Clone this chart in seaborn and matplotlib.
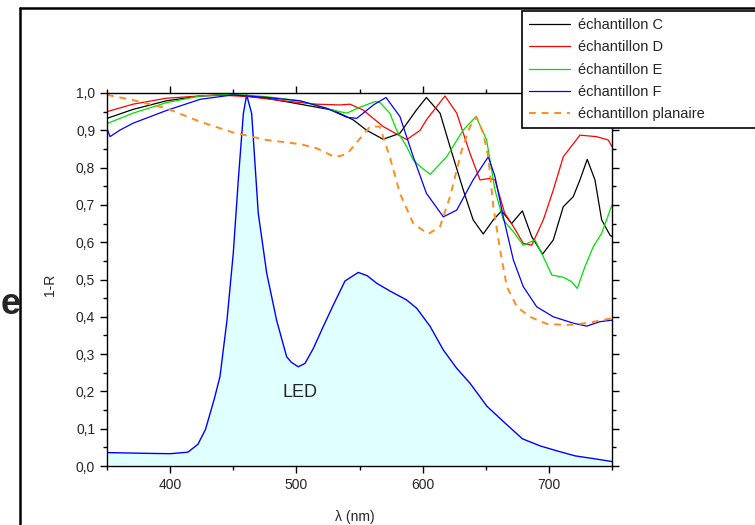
import numpy as np
import pandas as pd
import matplotlib
matplotlib.use("Agg")
import matplotlib.pyplot as plt
from matplotlib.lines import Line2D
from matplotlib.ticker import MultipleLocator, FuncFormatter
import seaborn as sns

# --- data (wavelength in nm, 1-R) ---
led_wl = [350, 380, 400, 414, 422, 428, 435, 439.5, 445, 450, 454, 458, 460.6, 464.6,
          469.8, 476.5, 484.4, 492.3, 496, 501.5, 506.8, 513.4, 521.3, 529.3, 538.5,
          549, 556.2, 563.6, 574.2, 587.4, 595.3, 606, 616.4, 627, 637.5, 651, 665,
          679, 693, 707, 721, 735, 750]
led_val = [0.036, 0.034, 0.033, 0.037, 0.058, 0.098, 0.18, 0.24, 0.39, 0.57, 0.767,
           0.945, 0.995, 0.945, 0.678, 0.517, 0.39, 0.293, 0.278, 0.266, 0.275, 0.315,
           0.374, 0.432, 0.496, 0.519, 0.51, 0.49, 0.469, 0.445, 0.423, 0.374, 0.311,
           0.262, 0.222, 0.16, 0.116, 0.073, 0.054, 0.04, 0.027, 0.02, 0.012]

c_wl = [350, 370.6, 397, 423.7, 450, 476.5, 503, 529, 545, 555.7, 568.7, 582, 595, 603,
        613.8, 621.7, 632.2, 640, 648, 656, 662.6, 670.5, 679, 686.4, 695, 703.5,
        711.4, 719.3, 724.6, 730.4, 736.5, 741.8, 748.4, 750]
c_val = [0.932, 0.956, 0.979, 0.992, 0.995, 0.986, 0.97, 0.954, 0.928, 0.90, 0.876,
         0.892, 0.954, 0.988, 0.946, 0.856, 0.74, 0.66, 0.622, 0.66, 0.684, 0.65, 0.684,
         0.615, 0.568, 0.606, 0.695, 0.722, 0.767, 0.822, 0.767, 0.66, 0.619, 0.615]

d_wl = [350, 370.6, 397, 436.8, 463, 489.5, 516, 534.5, 542.5, 553, 568.8, 587.4, 598,
        603, 617.7, 627, 637.5, 645.4, 653.4, 657.3, 665, 671.9, 679.7, 686.4, 695.6,
        703.5, 711.4, 724.6, 737.8, 747, 750]
d_val = [0.95, 0.97, 0.986, 0.995, 0.99, 0.979, 0.97, 0.968, 0.97, 0.954, 0.91, 0.875,
         0.90, 0.928, 0.992, 0.946, 0.838, 0.767, 0.771, 0.767, 0.678, 0.642, 0.597,
         0.592, 0.66, 0.74, 0.829, 0.887, 0.883, 0.874, 0.856]

e_wl = [350, 370.6, 397, 423.7, 450, 476.5, 503, 529, 540, 550.4, 562.3, 566, 574,
        579.5, 587.4, 592.6, 598, 606, 619, 632, 642.3, 650.7, 657.3, 663.9, 671.9,
        679.7, 689, 695.6, 702.3, 711.4, 718, 722.5, 728.5, 735.2, 741.8, 750]
e_val = [0.918, 0.946, 0.974, 0.992, 0.997, 0.99, 0.979, 0.954, 0.946, 0.962, 0.977,
         0.975, 0.946, 0.90, 0.856, 0.82, 0.803, 0.782, 0.829, 0.90, 0.937, 0.874, 0.74,
         0.66, 0.628, 0.592, 0.606, 0.561, 0.512, 0.506, 0.494, 0.476, 0.534, 0.588,
         0.624, 0.70]

f_wl = [350, 352.4, 360, 370.6, 397, 423.7, 450, 476.5, 503, 524, 540, 547.8, 561, 571,
        582, 592.6, 603, 616.4, 627, 640, 652, 657.3, 663.9, 671.9, 679.7, 690.3, 703.5,
        719.3, 729.9, 740.5, 750]
f_val = [0.905, 0.883, 0.90, 0.919, 0.953, 0.983, 0.995, 0.988, 0.979, 0.959, 0.935,
         0.932, 0.968, 0.988, 0.937, 0.829, 0.731, 0.668, 0.686, 0.767, 0.829, 0.776,
         0.668, 0.552, 0.481, 0.427, 0.40, 0.383, 0.375, 0.387, 0.391]

p_wl = [350, 370.6, 397, 423.7, 450, 476.5, 503, 516, 530.6, 540, 550.4, 558.3, 566,
        574, 582, 592.6, 604.5, 613.8, 621.7, 631, 637.5, 642.8, 648, 652, 656, 661.4,
        666.7, 674.6, 685, 698.3, 714.2, 730, 740.5, 750]
p_val = [0.995, 0.981, 0.959, 0.923, 0.894, 0.874, 0.863, 0.852, 0.828, 0.836, 0.878,
         0.91, 0.91, 0.829, 0.731, 0.65, 0.622, 0.642, 0.722, 0.847, 0.91, 0.935, 0.892,
         0.829, 0.695, 0.579, 0.481, 0.427, 0.40, 0.381, 0.378, 0.383, 0.39, 0.396]

samples = [
    ("échantillon C", c_wl, c_val, "black", "-"),
    ("échantillon D", d_wl, d_val, "#ff0000", "-"),
    ("échantillon E", e_wl, e_val, "#00e000", "-"),
    ("échantillon F", f_wl, f_val, "#0000ff", "-"),
    ("échantillon planaire", p_wl, p_val, "#ff8c1a", (0, (3.5, 3))),
]

sns.set_style("ticks")
plt.rcParams['font.family'] = ['Liberation Sans', 'DejaVu Sans']

fig = plt.figure(figsize=(7.55, 5.25), dpi=100)
ax = fig.add_axes([107 / 755, 1 - 466 / 525, 505 / 755, 373 / 525])

# LED spectrum, filled
led = pd.DataFrame({"wl": led_wl, "v": led_val})
ax.fill_between(led["wl"], 0, led["v"], color="#e0ffff", lw=0)
sns.lineplot(data=led, x="wl", y="v", ax=ax, color="#0000ff", lw=1.0)

handles = []
for name, wl, val, col, ls in samples:
    df = pd.DataFrame({"wl": wl, "v": val})
    lw = 1.4 if name.endswith("planaire") else 0.9
    sns.lineplot(data=df, x="wl", y="v", ax=ax, color=col, lw=lw, linestyle=ls)
    handles.append(Line2D([], [], color=col, lw=lw, linestyle=ls, label=name))

ax.text(503, 0.198, "LED", fontsize=13, ha="center", va="center")

ax.set_xlim(350, 750)
ax.set_ylim(0, 1.0)
ax.xaxis.set_major_locator(MultipleLocator(100))
ax.xaxis.set_minor_locator(MultipleLocator(50))
ax.yaxis.set_major_locator(MultipleLocator(0.1))
ax.yaxis.set_minor_locator(MultipleLocator(0.05))
ax.yaxis.set_major_formatter(FuncFormatter(lambda v, p: f"{v:.1f}".replace(".", ",")))
ax.tick_params(which="both", direction="out", top=True, right=True, labelsize=10,
               color="black", width=1.0)
ax.tick_params(which="major", length=5)
ax.tick_params(which="minor", length=3)
for sp in ax.spines.values():
    sp.set_linewidth(1.0)
    sp.set_color("black")

ax.set_xlabel("λ (nm)", fontsize=10)
ax.set_ylabel("1-R", fontsize=10)
ax.xaxis.set_label_coords(0.491, -0.118)
ax.yaxis.set_label_coords(-0.099, 0.485)

leg = fig.legend(handles=handles, loc="upper left",
                 bbox_to_anchor=(522 / 755, 0.5, 0.32, 1 - 11 / 525 - 0.5),
                 mode="expand", fontsize=10.5, frameon=True, fancybox=False,
                 framealpha=1.0, handlelength=2.8, handletextpad=0.55,
                 labelspacing=0.56, borderpad=0.5, borderaxespad=0)
leg.get_frame().set_edgecolor("black")
leg.get_frame().set_linewidth(1.2)

# outer frame of the cropped page, and the cut-off letter on the left
fig.add_artist(Line2D([20 / 755, 20 / 755], [0, 1 - 8 / 525], color="black", lw=1.8))
fig.add_artist(Line2D([20 / 755, 1], [1 - 8 / 525, 1 - 8 / 525], color="black", lw=1.8))
fig.text(0.001, 0.42, "e", fontsize=26, fontweight="bold", ha="left", va="center")

fig.savefig("out.png", dpi=100)
